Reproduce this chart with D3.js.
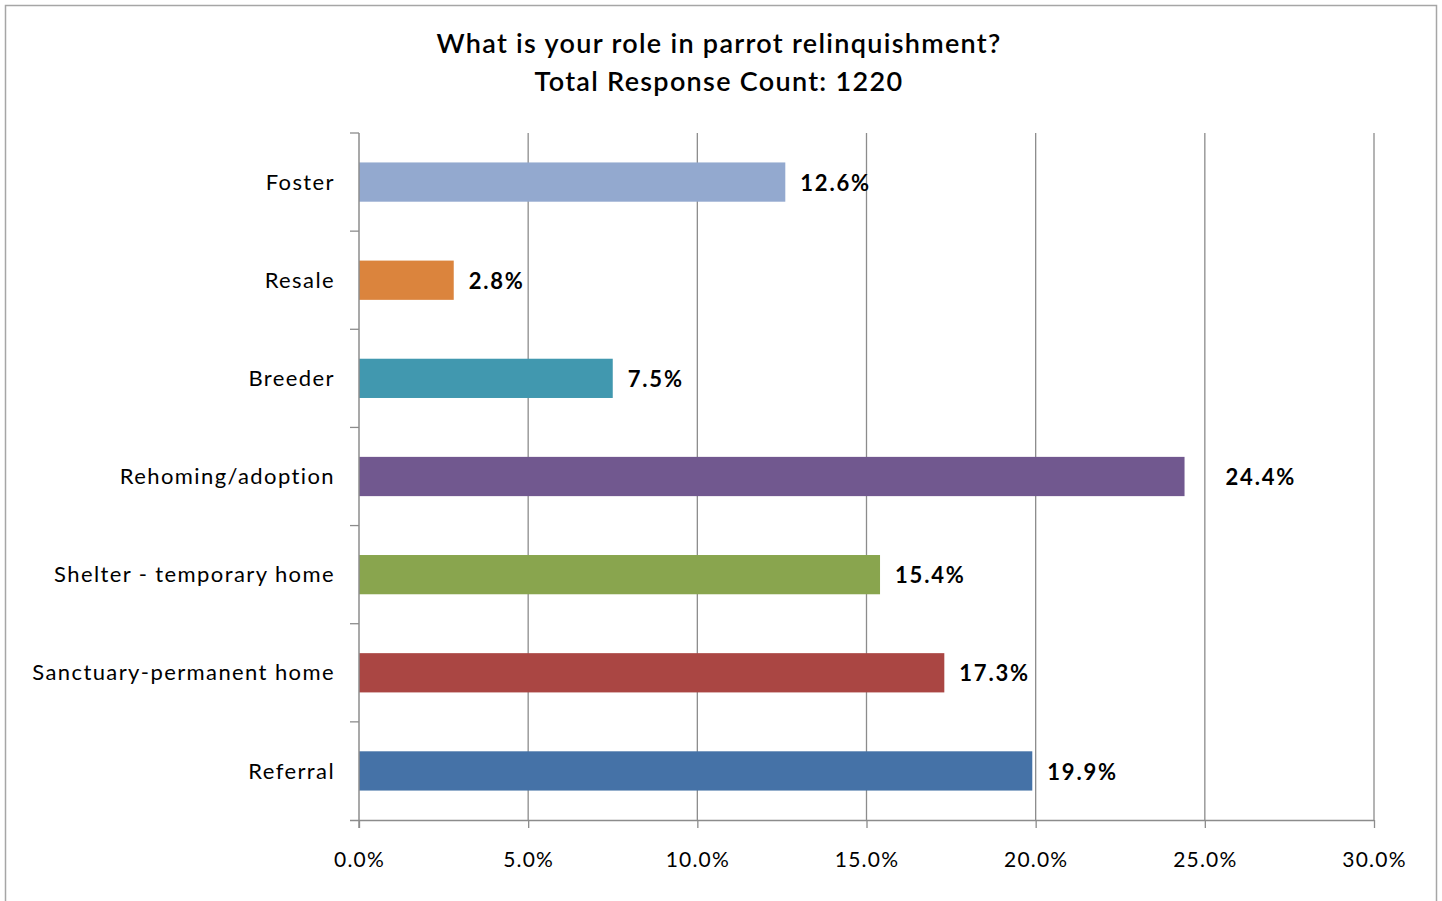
<!DOCTYPE html>
<html>
<head>
<meta charset="utf-8">
<script src="https://cdn.jsdelivr.net/npm/d3@7"></script>
<style>
  html, body { margin: 0; padding: 0; background: #fff; }
  svg { display: block; }
  text { font-family: Lato, "Open Sans", sans-serif; fill: #000; }
</style>
</head>
<body>
<svg id="chart" width="1442" height="901"></svg>
<script>
// Survey answers, top to bottom
const categories = ["Foster", "Resale", "Breeder", "Rehoming/adoption", "Shelter - temporary home", "Sanctuary-permanent home", "Referral"];
const percents = [12.6, 2.8, 7.5, 24.4, 15.4, 17.3, 19.9];
const barColors = ["#93A9CF", "#DB843D", "#4198AF", "#71588F", "#89A54E", "#AA4643", "#4572A7"];
const xTicks = [0, 5, 10, 15, 20, 25, 30];
const titleLines = ["What is your role in parrot relinquishment?", "Total Response Count: 1220"];

// the rehoming label sits a little further from its bar
const labelNudge = { "Rehoming/adoption": 26 };

const svg = d3.select("#chart");
const plot = { left: 359, right: 1374, top: 133, bottom: 820 };

// outer frame
svg.append("rect")
  .attr("x", 5.5).attr("y", 5.5)
  .attr("width", 1431).attr("height", 905)
  .attr("fill", "#fff").attr("stroke", "#a6a6a6").attr("stroke-width", 1.5);

// title
svg.append("g").selectAll("text").data(titleLines).join("text")
  .attr("x", 719).attr("y", (d, i) => 53 + i * 38)
  .attr("text-anchor", "middle")
  .attr("font-size", 27).attr("font-weight", 600)
  .attr("letter-spacing", 1.3)
  .text(d => d);

const x = d3.scaleLinear().domain([0, 30]).range([plot.left, plot.right]);
const y = d3.scaleBand().domain(categories).range([plot.top, plot.bottom]).paddingInner(0.6).paddingOuter(0.3);

// vertical gridlines
svg.append("g").selectAll("line").data(xTicks.filter(t => t > 0)).join("line")
  .attr("x1", d => x(d)).attr("x2", d => x(d))
  .attr("y1", plot.top).attr("y2", plot.bottom)
  .attr("stroke", "#8c8c8c").attr("stroke-width", 1.3);

// bars
svg.append("g").selectAll("rect").data(categories).join("rect")
  .attr("x", x(0))
  .attr("y", d => y(d))
  .attr("width", (d, i) => x(percents[i]) - x(0))
  .attr("height", y.bandwidth())
  .attr("fill", (d, i) => barColors[i]);

// value labels
svg.append("g").selectAll("text").data(categories).join("text")
  .attr("x", (d, i) => x(percents[i]) + 15 + (labelNudge[d] || 0))
  .attr("y", d => y(d) + y.bandwidth() / 2 + 1)
  .attr("dy", "0.35em")
  .attr("font-size", 22).attr("font-weight", 700)
  .attr("letter-spacing", 1.8)
  .text((d, i) => percents[i].toFixed(1) + "%");

// x axis
const xAxis = d3.axisBottom(x).tickValues(xTicks).tickSize(8).tickPadding(24)
  .tickFormat(d => d.toFixed(1) + "%");
const gx = svg.append("g").attr("transform", `translate(0,${plot.bottom})`).call(xAxis);
gx.select(".domain").attr("d", `M${plot.left - 9},0.5H${plot.right}`).attr("stroke", "#8c8c8c").attr("stroke-width", 1.5);
gx.selectAll(".tick line").attr("stroke", "#8c8c8c").attr("stroke-width", 1.3);
gx.selectAll(".tick text").attr("font-size", 21).attr("font-family", "Lato, sans-serif")
  .attr("letter-spacing", 1.2).attr("fill", "#000");

// y axis: tick marks sit between categories
const yEdges = d3.range(categories.length + 1).map(i => plot.top + i * (plot.bottom - plot.top) / categories.length);
const gy = svg.append("g");
gy.append("line")
  .attr("x1", plot.left).attr("x2", plot.left)
  .attr("y1", plot.top).attr("y2", plot.bottom + 8)
  .attr("stroke", "#8c8c8c").attr("stroke-width", 1.5);
gy.selectAll("line.tk").data(yEdges.slice(0, -1)).join("line").attr("class", "tk")
  .attr("x1", plot.left - 9).attr("x2", plot.left)
  .attr("y1", d => d).attr("y2", d => d)
  .attr("stroke", "#8c8c8c").attr("stroke-width", 1.3);
gy.selectAll("text").data(categories).join("text")
  .attr("x", plot.left - 24)
  .attr("y", d => y(d) + y.bandwidth() / 2)
  .attr("dy", "0.35em")
  .attr("text-anchor", "end")
  .attr("font-size", 22)
  .attr("letter-spacing", 1.4)
  .text(d => d);
</script>
</body>
</html>
